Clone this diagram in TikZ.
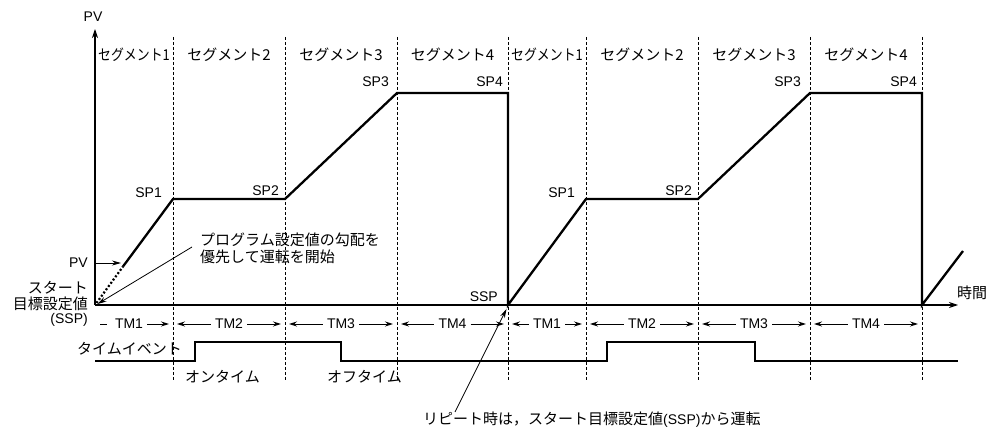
\documentclass[tikz,border=0pt]{standalone}
\usepackage{fontspec}
\usepackage{graphicx}
\setmainfont{Liberation Sans}
\newfontfamily\jp{Noto Sans CJK JP}
\usetikzlibrary{arrows.meta}
\begin{document}
\begin{tikzpicture}[x=1pt,y=-1pt,
  lab/.style={inner sep=0pt, font=\fontsize{14}{16}\selectfont},
  jlab/.style={inner sep=0pt, font=\fontsize{15}{17}\selectfont\jp},
  prof/.style={line width=2.3pt, line join=miter},
  evt/.style={line width=2.1pt, line join=miter},
  axis/.style={line width=1.1pt, -{Stealth[length=9pt,width=6pt]}},
  segline/.style={line width=0.8pt, dash pattern=on 3pt off 2pt},
  thinarrow/.style={line width=0.8pt, -{Stealth[length=9pt,width=5pt]}},
  tmline/.style={line width=0.9pt},
  tmtext/.style={inner xsep=4pt, inner ysep=0pt, font=\fontsize{14}{16}\selectfont}]
\useasboundingbox (0,0) rectangle (991,430);

% axes
\coordinate (O) at (95,305);
\coordinate (ytip) at (95,29);
\coordinate (xtip) at (958,305);
\draw[axis] (O) -- (ytip);
\draw[axis] (O) -- (xtip);
\node[lab] (pvtop) at (93,17) {PV};
\node[jlab] (jikan) at (972,293) {時間};

% segment boundaries
\foreach \x/\n in {173/a,285/b,397/c,508/d,586/e,698/f,810/g,922/h}{
  \coordinate (t\n) at (\x,37);
  \coordinate (b\n) at (\x,380);
  \draw[segline] (t\n) -- (b\n);
}

% segment labels
\node[jlab] (s1) at (134,55) {\scalebox{0.86}[1]{セグメント1}};
\node[jlab] (s2) at (229,55) {セグメント2};
\node[jlab] (s3) at (341,55) {セグメント3};
\node[jlab] (s4) at (452.5,55) {セグメント4};
\node[jlab] (s5) at (547,55) {\scalebox{0.86}[1]{セグメント1}};
\node[jlab] (s6) at (642,55) {セグメント2};
\node[jlab] (s7) at (754,55) {セグメント3};
\node[jlab] (s8) at (866,55) {セグメント4};

% profile
\coordinate (PVs) at (123,266.5);
\coordinate (SP1c) at (173,199);
\coordinate (SP2c) at (285,199);
\coordinate (SP3c) at (397,93);
\coordinate (SP4c) at (508,93);
\coordinate (SSPc) at (508,305);
\coordinate (SP1d) at (586,199);
\coordinate (SP2d) at (698,199);
\coordinate (SP3d) at (810,93);
\coordinate (SP4d) at (922,93);
\coordinate (E4) at (922,305);
\coordinate (ER) at (963,251);
\draw[prof] (PVs) -- (SP1c) -- (SP2c) -- (SP3c) -- (SP4c) -- (SSPc) -- (SP1d) -- (SP2d) -- (SP3d) -- (SP4d) -- (E4) -- (ER);
\coordinate (Od) at (96.5,303);
\draw[line width=2.2pt, dash pattern=on 2pt off 2pt] (Od) -- (PVs);

% SP labels
\node[lab, anchor=east] (l1) at (162,193) {SP1};
\node[lab, anchor=east] (l2) at (279,191) {SP2};
\node[lab, anchor=east] (l3) at (389,82) {SP3};
\node[lab, anchor=east] (l4) at (503,82) {SP4};
\node[lab, anchor=east] (l5) at (575,193) {SP1};
\node[lab, anchor=east] (l6) at (692,191) {SP2};
\node[lab, anchor=east] (l7) at (801,82) {SP3};
\node[lab, anchor=east] (l8) at (917,82) {SP4};
\node[lab, anchor=east] (lssp) at (498,297) {SSP};

% left labels
\node[lab, anchor=east] (pvl) at (88,263) {PV};
\coordinate (pvpt) at (121,263);
\draw[thinarrow] (95,263) -- (pvpt);
\node[jlab, anchor=east] (st1) at (88,288) {スタート};
\node[jlab, anchor=east] (st2) at (88,304) {目標設定値};
\node[lab, anchor=east] (st3) at (88,320) {(SSP)};

% annotation
\node[jlab, anchor=west, align=left] (ann) at (200,248.5) {プログラム設定値の勾配を\\優先して運転を開始};
\coordinate (annst) at (192,247);
\coordinate (anntip) at (97.5,304);
\draw[thinarrow] (annst) -- (anntip);

% TM row
\node[tmtext] (tm1) at (129,324) {TM1};
\coordinate (tm1a) at (100,324);
\draw[tmline] (tm1a) -- ++(7,0);
\coordinate (tm1b) at (169,324);
\draw[tmline,-{Stealth[length=8pt,width=5pt]}] (tm1.east) -- (tm1b);
\foreach \n/\a/\b/\c in {2/173/285/229, 3/285/397/341, 4/397/508/452.5, 5/508/586/547, 6/586/698/642, 7/698/810/754, 8/810/922/866}{
  \node[tmtext] (tm\n) at (\c,324) {\ifnum\n=5 TM1\else\ifnum\n=6 TM2\else\ifnum\n=7 TM3\else\ifnum\n=8 TM4\else TM\n\fi\fi\fi\fi};
  \coordinate (tml\n) at (\a+4,324);
  \coordinate (tmr\n) at (\b-4,324);
  \draw[tmline,{Stealth[length=8pt,width=5pt]}-] (tml\n) -- (tm\n.west);
  \draw[tmline,-{Stealth[length=8pt,width=5pt]}] (tm\n.east) -- (tmr\n);
}

% time event
\draw[evt] (95,361) -- (195,361) -- (195,342) -- (341,342) -- (341,361) -- (607,361) -- (607,342) -- (755,342) -- (755,361) -- (958,361);
\node[jlab, anchor=east] (te) at (182,349) {タイムイベント};
\node[jlab, anchor=west] (on) at (185,377) {オンタイム};
\node[jlab, anchor=west] (off) at (327,377) {オフタイム};

% repeat note
\node[lab, anchor=west] (rep) at (423,420) {{\jp\fontsize{15}{17}\selectfont リピート時は，スタート目標設定値}(SSP){\jp\fontsize{15}{17}\selectfont から運転}};
\coordinate (repst) at (455,412);
\coordinate (reptip) at (506.5,309);
\draw[thinarrow] (repst) -- (reptip);
\end{tikzpicture}
\end{document}
